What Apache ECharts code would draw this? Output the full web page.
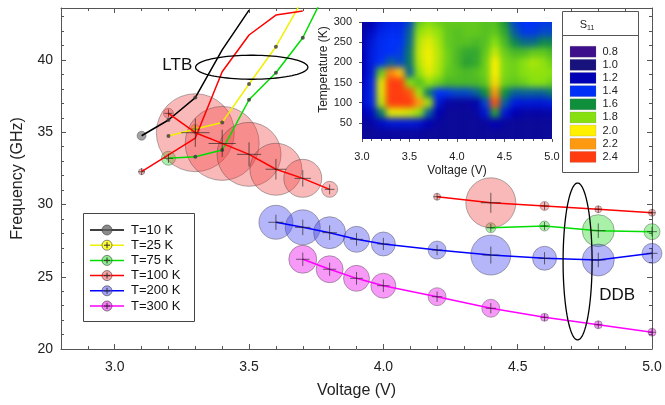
<!DOCTYPE html>
<html><head><meta charset="utf-8">
<script src="https://cdn.jsdelivr.net/npm/echarts@6/dist/echarts.min.js"></script>
<style>
html,body{margin:0;padding:0;background:#fff;}
#heatClip{position:absolute;left:362px;top:22px;width:190px;height:117px;overflow:hidden;z-index:1;}
#heat{position:absolute;left:-20px;top:-20px;width:230px;height:157px;filter:blur(3px);}
#main{position:absolute;left:0;top:0;width:665px;height:405px;z-index:2;}
</style></head><body>
<div id="heatClip"><div id="heat"></div></div>
<div id="main"></div>
<script>
// ---------- main chart data ----------
const seriesNames = ['T=10 K','T=25 K','T=75 K','T=100 K','T=200 K','T=300 K'];
const t10Volt = [3.1, 3.2, 3.3, 3.4, 3.5];
const t10Freq = [34.76, 35.85, 37.4, 40.7, 43.45];
const t10Size = [4.5, 2, 2, 0, 0];
const t25Volt = [3.2, 3.3, 3.4, 3.5, 3.6, 3.7];
const t25Freq = [34.74, 35.22, 35.68, 38.34, 40.92, 44.2];
const t25Size = [2, 4.5, 2, 2, 2, 0];
const t75Volt = [3.2, 3.3, 3.4, 3.5, 3.6, 3.7, 3.8, 4.1, 4.4, 4.6, 4.8, 5.0];
const t75Freq = [33.2, 33.31, 33.77, 37.25, 39.12, 41.54, 45.3, null, 28.39, 28.51, 28.19, 28.12];
const t75Size = [7, 2, 2, 2, 2, 2, 0, 0, 5, 5, 16, 8];
const t100Volt = [3.1, 3.3, 3.4, 3.5, 3.6, 3.7, 3.75, 3.2, 3.3, 3.4, 3.5, 3.6, 3.7, 3.8, 4.0, 4.2, 4.4, 4.6, 4.8, 5.0];
const t100Freq = [32.27, 34.6, 39.19, 41.73, 43.11, 43.39, null, 36.31, 34.97, 34.23, 33.47, 32.44, 31.81, 31.05, null, 30.54, 30.12, 29.9, 29.67, 29.43];
const t100Size = [3, 0, 0, 0, 0, 0, 0, 5, 39, 37, 32, 26, 19, 8, 0, 3.5, 25, 4.5, 3.5, 3.5];
const t200Volt = [3.6, 3.7, 3.8, 3.9, 4.0, 4.2, 4.4, 4.6, 4.8, 5.0];
const t200Freq = [28.77, 28.42, 28.05, 27.59, 27.27, 26.85, 26.5, 26.28, 26.16, 26.62];
const t200Size = [17, 17.5, 16, 13, 12, 9, 20, 12, 16, 10];
const t300Volt = [3.7, 3.8, 3.9, 4.0, 4.2, 4.4, 4.6, 4.8, 5.0];
const t300Freq = [26.21, 25.52, 24.89, 24.38, 23.62, 22.82, 22.19, 21.68, 21.16];
const t300Size = [14, 13.5, 13, 12.5, 9, 9, 4, 4, 4];

// annotations
const annoLabels = ['LTB', 'DDB'];
const ltbCenter = [3.51, 39.5], ltbRadius = [0.209, 0.83], ltbText = [3.233, 39.62];
const ddbCenter = [4.723, 26.06], ddbRadius = [0.054, 5.43], ddbText = [4.87, 23.74];

// ---------- inset heatmap data ----------
const heatVolt = [3.0,3.1,3.2,3.3,3.4,3.5,3.6,3.7,3.8,3.9,4.0,4.1,4.2,4.3,4.4,4.5,4.6,4.7,4.8,4.9,5.0];
const heatTemp = [300,275,250,225,200,175,150,125,100,75,50,25];
const s11Grid = [
 [1.12,1.2,1.3,1.35,1.35,1.45,1.75,1.8,1.76,1.74,1.74,1.74,1.74,1.72,1.72,1.62,1.45,1.4,1.4,1.42,1.42],
 [1.15,1.25,1.35,1.38,1.38,1.5,1.82,1.88,1.82,1.74,1.72,1.74,1.74,1.72,1.74,1.66,1.5,1.42,1.42,1.45,1.45],
 [1.18,1.3,1.38,1.4,1.4,1.52,1.88,1.95,1.86,1.74,1.72,1.72,1.7,1.72,1.8,1.7,1.58,1.52,1.52,1.58,1.58],
 [1.2,1.32,1.38,1.4,1.42,1.55,1.9,1.98,1.88,1.76,1.7,1.66,1.66,1.74,1.9,1.75,1.7,1.7,1.74,1.74,1.7],
 [1.2,1.32,1.4,1.5,1.45,1.55,1.88,1.98,1.88,1.76,1.7,1.64,1.66,1.76,2.0,1.78,1.76,1.8,1.86,1.82,1.76],
 [1.2,1.32,1.75,2.25,2.1,1.5,1.82,1.95,1.86,1.74,1.72,1.7,1.72,1.76,2.0,1.78,1.76,1.8,1.82,1.82,1.8],
 [1.22,1.35,1.95,2.55,2.5,1.8,1.72,1.82,1.76,1.7,1.7,1.7,1.7,1.74,2.05,1.76,1.74,1.76,1.8,1.8,1.76],
 [1.25,1.35,1.95,2.6,2.55,2.35,1.85,1.55,1.4,1.42,1.45,1.45,1.5,1.6,2.2,1.6,1.5,1.5,1.5,1.5,1.55],
 [1.25,1.35,1.9,2.6,2.55,2.45,2.2,1.85,1.3,1.15,1.12,1.12,1.18,1.45,2.35,1.5,1.32,1.3,1.3,1.3,1.32],
 [1.18,1.25,1.55,1.95,1.95,1.92,1.82,1.5,1.2,1.1,1.1,1.1,1.12,1.3,1.65,1.3,1.2,1.15,1.15,1.15,1.15],
 [1.12,1.15,1.25,1.3,1.3,1.3,1.28,1.2,1.12,1.1,1.1,1.1,1.1,1.12,1.2,1.12,1.1,1.1,1.1,1.1,1.1],
 [1.1,1.1,1.12,1.12,1.12,1.12,1.12,1.1,1.1,1.1,1.1,1.1,1.1,1.1,1.1,1.1,1.1,1.1,1.1,1.1,1.1]
];
const s11Levels = ['0.8','1.0','1.2','1.4','1.6','1.8','2.0','2.2','2.4'];
const s11Colors = ['#3d0f8a','#17127c','#0000b4','#0030f8','#0f8f3c','#86e010','#fff000','#ff9a10','#ff3c10'];

// ---------- styles ----------
const FONT = 'Liberation Sans, Arial, sans-serif';
const AX = '#555';
const lineColors = ['#000000','#f0f000','#00dd00','#ff0000','#0000ff','#ff00ff'];
const bubbleColors = ['rgba(100,100,100,0.75)','rgba(255,255,40,0.95)','rgba(40,220,40,0.5)','rgba(240,60,60,0.45)','rgba(70,70,240,0.5)','rgba(235,0,235,0.5)'];
const crossOn = [false,true,true,true,true,true];

// ---------- heat instance ----------
const heat = echarts.init(document.getElementById('heat'));
const heatData = [];
heatTemp.forEach((t, r) => heatVolt.forEach((v, c) => heatData.push([v, t, s11Grid[r][c]])));
heat.setOption({
  animation: false,
  grid: {left: 20, top: 20, width: 190, height: 117},
  xAxis: {type: 'value', min: 3, max: 5, show: false},
  yAxis: {type: 'value', min: 10, max: 300, show: false},
  visualMap: {show: false, type: 'continuous', dimension: 2, min: 0.8, max: 2.4, inRange: {color: s11Colors}},
  series: [{
    type: 'custom', data: heatData, encode: {x: 0, y: 1},
    renderItem: function (params, api) {
      const v = api.value(0), t = api.value(1);
      let x0 = v - 0.05, x1 = v + 0.05, y0 = t + 12.5, y1 = t - 12.5;
      if (v <= 3.0) x0 = v - 0.4;
      if (v >= 5.0) x1 = v + 0.4;
      if (t >= 300) y0 = t + 80;
      if (t <= 25) y1 = t - 80;
      const p0 = api.coord([x0, y0]), p1 = api.coord([x1, y1]);
      return {type: 'rect', shape: {x: p0[0], y: p0[1], width: p1[0] - p0[0] + 0.6, height: p1[1] - p0[1] + 0.6},
        style: {fill: api.visual('color')}};
    }
  }]
});

// ---------- main instance ----------
const chart = echarts.init(document.getElementById('main'));
const temps = [
  {volt: t10Volt, freq: t10Freq, size: t10Size},
  {volt: t25Volt, freq: t25Freq, size: t25Size},
  {volt: t75Volt, freq: t75Freq, size: t75Size},
  {volt: t100Volt, freq: t100Freq, size: t100Size},
  {volt: t200Volt, freq: t200Freq, size: t200Size},
  {volt: t300Volt, freq: t300Freq, size: t300Size}
];
const series = [];
temps.forEach((t, i) => {
  const bubbles = [], dots = [], crosses = [], line = [];
  t.volt.forEach((v, k) => {
    const f = t.freq[k], s = t.size[k];
    line.push([v, f == null ? '-' : f]);
    if (f == null || !s) return;
    if (s > 2.5) { bubbles.push([v, f, s]); if (crossOn[i]) crosses.push([v, f, s]); }
    else dots.push([v, f, s]);
  });
  series.push({type: 'scatter', name: seriesNames[i], data: bubbles, symbol: 'circle',
    symbolSize: d => d[2] * 2, itemStyle: {color: bubbleColors[i], borderColor: 'rgba(60,60,60,0.5)', borderWidth: 1},
    z: 2, clip: false, silent: true});
  series.push({type: 'line', name: seriesNames[i], data: line, showSymbol: false, symbol: 'none',
    lineStyle: {color: lineColors[i], width: 1.5}, z: 3, silent: true, connectNulls: false});
  series.push({type: 'scatter', data: dots, symbol: 'circle', symbolSize: d => d[2] * 2,
    itemStyle: {color: '#3a3a3a'}, z: 4, silent: true});
  series.push({type: 'scatter', data: crosses, symbol: 'path://M0,-10L0,10M-10,0L10,0',
    symbolSize: d => (2.5 + 0.3 * d[2]) * 2,
    itemStyle: {color: 'rgba(0,0,0,0)', borderColor: 'rgba(30,30,30,0.8)', borderWidth: 1},
    z: 5, clip: false, silent: true});
});
series.push({type: 'scatter', xAxisIndex: 2, yAxisIndex: 2, data: []});

const mainTick = {show: true, inside: true, length: 5, lineStyle: {color: AX}};
const mainMinor = {show: true, splitNumber: 5, length: 3, lineStyle: {color: AX}};
const lbl = {color: '#222', fontSize: 14, fontFamily: FONT};

chart.setOption({
  animation: false,
  grid: [
    {left: 61, top: 8, width: 591, height: 341},
    {left: 362, top: 22, width: 190, height: 117}
  ],
  xAxis: [
    {type: 'value', gridIndex: 0, min: 2.8, max: 5.0, splitNumber: 5, minInterval: 0.5, maxInterval: 0.5,
      axisLine: {lineStyle: {color: AX}}, axisTick: mainTick, minorTick: mainMinor, splitLine: {show: false},
      axisLabel: Object.assign({margin: 11, showMinLabel: false, formatter: v => v.toFixed(1)}, lbl),
      name: 'Voltage (V)', nameLocation: 'middle', nameGap: 34, nameTextStyle: {color: '#222', fontSize: 16, fontFamily: FONT}},
    {type: 'value', gridIndex: 0, position: 'top', min: 2.8, max: 5.0, splitNumber: 5, minInterval: 0.5, maxInterval: 0.5,
      axisLine: {lineStyle: {color: AX}}, axisTick: mainTick, minorTick: mainMinor, splitLine: {show: false},
      axisLabel: {show: false}},
    {type: 'value', gridIndex: 1, min: 3, max: 5, interval: 0.5,
      axisLine: {show: false}, axisTick: {show: true, inside: false, length: 3, lineStyle: {color: AX}},
      minorTick: {show: true, splitNumber: 5, length: 2, lineStyle: {color: AX}}, splitLine: {show: false},
      axisLabel: {margin: 12, color: '#222', fontSize: 11, fontFamily: FONT, formatter: v => v.toFixed(1)},
      name: 'Voltage (V)', nameLocation: 'middle', nameGap: 26, nameTextStyle: {color: '#222', fontSize: 12, fontFamily: FONT}}
  ],
  yAxis: [
    {type: 'value', gridIndex: 0, min: 20, max: 43.6, interval: 5,
      axisLine: {show: true, lineStyle: {color: AX}}, axisTick: mainTick, minorTick: mainMinor, splitLine: {show: false},
      axisLabel: Object.assign({margin: 8, showMaxLabel: false}, lbl),
      name: 'Frequency (GHz)', nameLocation: 'middle', nameGap: 35, nameTextStyle: {color: '#222', fontSize: 16, fontFamily: FONT}},
    {type: 'value', gridIndex: 0, position: 'right', min: 20, max: 43.6, interval: 5,
      axisLine: {show: true, lineStyle: {color: AX}}, axisTick: mainTick, minorTick: mainMinor, splitLine: {show: false},
      axisLabel: {show: false}},
    {type: 'value', gridIndex: 1, min: 10, max: 300, splitNumber: 6, minInterval: 50, maxInterval: 50,
      axisLine: {show: false}, axisTick: {show: true, inside: false, length: 3, lineStyle: {color: AX}}, splitLine: {show: false},
      axisLabel: {margin: 10, showMinLabel: false, color: '#222', fontSize: 11, fontFamily: FONT},
      name: 'Temperature (K)', nameLocation: 'middle', nameGap: 29,
      nameTextStyle: {color: '#222', fontSize: 12, fontFamily: FONT, padding: [0, 0, 0, 22]}}
  ],
  series: series
});

// ---------- annotations & legends (graphic) ----------
const P = d => chart.convertToPixel({xAxisIndex: 0, yAxisIndex: 0}, d);
function ellipse(c, r) {
  const pts = [];
  for (let a = 0; a < 90; a++) {
    const th = a / 90 * 2 * Math.PI;
    pts.push(P([c[0] + r[0] * Math.cos(th), c[1] + r[1] * Math.sin(th)]));
  }
  return {type: 'polygon', shape: {points: pts}, style: {fill: 'none', stroke: '#000', lineWidth: 1.3}, z: 10};
}
const g = [];
g.push(ellipse(ltbCenter, ltbRadius));
g.push(ellipse(ddbCenter, ddbRadius));
const lp = P(ltbText), dp = P(ddbText);
g.push({type: 'text', x: lp[0], y: lp[1], style: {text: annoLabels[0], font: '17px ' + FONT, fill: '#111', align: 'center', verticalAlign: 'middle'}, z: 10});
g.push({type: 'text', x: dp[0], y: dp[1], style: {text: annoLabels[1], font: '17px ' + FONT, fill: '#111', align: 'center', verticalAlign: 'middle'}, z: 10});

// main legend
g.push({type: 'rect', shape: {x: 83.5, y: 213.5, width: 111, height: 108}, style: {fill: '#fff', stroke: '#444', lineWidth: 1}, z: 20});
seriesNames.forEach((n, i) => {
  const y = 230 + i * 15.2;
  g.push({type: 'line', shape: {x1: 90, y1: y, x2: 124, y2: y}, style: {stroke: lineColors[i], lineWidth: 1.5}, z: 21});
  g.push({type: 'circle', shape: {cx: 107, cy: y, r: 5}, style: {fill: bubbleColors[i], stroke: 'rgba(60,60,60,0.6)', lineWidth: 1}, z: 22});
  if (crossOn[i]) {
    g.push({type: 'line', shape: {x1: 104, y1: y, x2: 110, y2: y}, style: {stroke: '#333', lineWidth: 1}, z: 23});
    g.push({type: 'line', shape: {x1: 107, y1: y - 3, x2: 107, y2: y + 3}, style: {stroke: '#333', lineWidth: 1}, z: 23});
  }
  g.push({type: 'text', x: 131, y: y, style: {text: n, font: '13px ' + FONT, fill: '#111', verticalAlign: 'middle'}, z: 23});
});

// S11 legend
g.push({type: 'rect', shape: {x: 562.5, y: 11.5, width: 76, height: 161}, style: {fill: '#fff', stroke: '#555', lineWidth: 1}, z: 20});
g.push({type: 'line', shape: {x1: 562.5, y1: 35.5, x2: 638.5, y2: 35.5}, style: {stroke: '#555', lineWidth: 1}, z: 21});
g.push({type: 'text', x: 587, y: 25, style: {text: '{s|S}{b|11}', rich: {s: {fontSize: 11, fontFamily: FONT, fill: '#222'}, b: {fontSize: 7, fontFamily: FONT, fill: '#222', padding: [6, 0, 0, 0]}}, align: 'center', verticalAlign: 'middle'}, z: 21});
s11Levels.forEach((lv, i) => {
  const y = 51.7 + i * 13.15;
  g.push({type: 'rect', shape: {x: 570, y: y - 5.5, width: 26, height: 11}, style: {fill: s11Colors[i], stroke: 'rgba(120,120,120,0.4)', lineWidth: 0.5}, z: 21});
  g.push({type: 'text', x: 602.5, y: y, style: {text: lv, font: '11px ' + FONT, fill: '#222', verticalAlign: 'middle'}, z: 21});
});
chart.setOption({graphic: g});
</script>
</body></html>
